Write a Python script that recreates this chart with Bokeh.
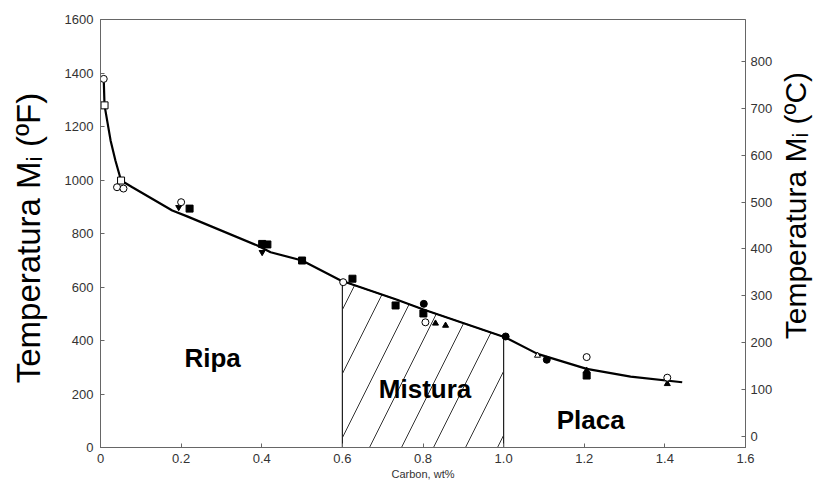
import math
import numpy as np
from bokeh.plotting import figure
from bokeh.layouts import row
from bokeh.models import Range1d, LinearAxis, FixedTicker, ColumnDataSource
from bokeh.core.properties import value
from bokeh.embed import file_html
from bokeh.resources import INLINE

# ---- data ----
curve_x = [0.008, 0.01, 0.025, 0.037, 0.051, 0.079, 0.178, 0.215, 0.389, 0.422,
           0.5, 0.596, 0.734, 0.801, 1.005, 1.084, 1.206, 1.315, 1.443]
curve_t = [1378, 1279, 1148, 1073, 998, 973, 886, 864, 755, 730,
           699, 624, 553, 516, 411, 350, 294, 265, 244]

open_circle_x = [0.008, 0.041, 0.057, 0.2, 0.602, 0.806, 1.206, 1.406]
open_circle_t = [1378, 973, 968, 917, 618, 468, 338, 261]
open_square_x = [0.01, 0.051]
open_square_t = [1279, 998]
filled_square_x = [0.221, 0.401, 0.414, 0.5, 0.625, 0.732, 0.801, 1.206]
filled_square_t = [893, 761, 759, 699, 631, 531, 501, 269]
filled_circle_x = [0.802, 1.005, 1.107]
filled_circle_t = [537, 415, 328]
filled_tri_x = [0.831, 0.856, 1.206, 1.406]
filled_tri_t = [464, 456, 288, 238]
down_tri_x = [0.194, 0.401]
down_tri_t = [898, 730]
open_tri_x = [1.084]
open_tri_t = [344]

mix_start, mix_end = 0.6, 1.0

region_names = ["Ripa", "Mistura", "Placa"]
region_x = [0.278, 0.805, 1.216]
region_t = [333, 220, 101]

x_ticks = [0, 0.2, 0.4, 0.6, 0.8, 1.0, 1.2, 1.4, 1.6]
x_tick_labels = ["0", "0.2", "0.4", "0.6", "0.8", "1.0", "1.2", "1.4", "1.6"]
f_ticks = [0, 200, 400, 600, 800, 1000, 1200, 1400, 1600]
c_ticks = [0, 100, 200, 300, 400, 500, 600, 700, 800]

left_title = "Temperatura M\u1d62  (ºF)"
right_title = "Temperatura M\u1d62 (ºC)"

FONT = "Liberation Sans"
AX = "#666666"
TXT = "#333333"

MAIN_W = 780
p = figure(width=MAIN_W, height=483, output_backend="svg", toolbar_location=None,
           x_range=Range1d(0, 1.6), y_range=Range1d(0, 1600),
           min_border_left=100, min_border_right=35, min_border_top=19,
           min_border_bottom=36, background_fill_color="white",
           border_fill_color="white")
p.xgrid.visible = False
p.ygrid.visible = False
p.outline_line_color = AX
p.outline_line_width = 1

p.extra_y_ranges = {"c": Range1d(-23.5, 889.6)}

# hatched mixed region under the curve
hx = np.linspace(mix_start, mix_end, 40)
ht = np.interp(hx, curve_x, curve_t)
px = [mix_start] + list(hx) + [mix_end]
pt = [0] + list(ht) + [0]
p.patch(px, pt, fill_color=None, line_color="#222222", line_width=1.2,
        hatch_pattern="/", hatch_scale=64, hatch_color="#333333", hatch_weight=1)

p.line(curve_x, curve_t, line_color="black", line_width=2.2)

ms = 7
p.scatter(filled_square_x, filled_square_t, marker="square", size=ms,
          fill_color="black", line_color="black")
p.scatter(filled_circle_x, filled_circle_t, marker="circle", size=ms,
          fill_color="black", line_color="black")
p.scatter(filled_tri_x, filled_tri_t, marker="triangle", size=ms - 1,
          fill_color="black", line_color="black")
p.scatter(down_tri_x, down_tri_t, marker="inverted_triangle", size=ms - 1,
          fill_color="black", line_color="black")
p.scatter(open_tri_x, open_tri_t, marker="triangle", size=ms - 1,
          fill_color="white", line_color="black")
p.scatter(open_square_x, open_square_t, marker="square", size=ms,
          fill_color="white", line_color="black", line_width=1)
p.scatter(open_circle_x, open_circle_t, marker="circle", size=ms,
          fill_color="white", line_color="black", line_width=1)

src = ColumnDataSource(dict(x=region_x, y=region_t, t=region_names))
p.text("x", "y", text="t", source=src, text_align="center",
       text_baseline="alphabetic", text_font=value(FONT), text_font_size="26px",
       text_font_style="bold", text_color="black")

def style(ax, standoff_lbl, standoff_axis):
    ax.axis_line_color = AX
    ax.major_tick_line_color = AX
    ax.minor_tick_line_color = None
    ax.major_tick_in = 4
    ax.major_tick_out = 0
    ax.major_label_text_font = FONT
    ax.major_label_text_font_size = "13px"
    ax.major_label_text_color = TXT
    ax.major_label_standoff = standoff_lbl
    ax.axis_label_text_font = FONT
    ax.axis_label_text_font_style = "normal"
    ax.axis_label_text_color = "black"
    ax.axis_label_standoff = standoff_axis

xa = p.xaxis[0]
xa.ticker = FixedTicker(ticks=x_ticks)
xa.major_label_overrides = {t: l for t, l in zip(x_ticks, x_tick_labels)}
style(xa, 6, 2)
xa.axis_label = "Carbon, wt%"
xa.axis_label_text_font_size = "11px"
xa.axis_label_text_color = TXT

ya = p.yaxis[0]
ya.ticker = FixedTicker(ticks=f_ticks)
style(ya, 7, 15)
ya.axis_label = left_title
ya.axis_label_text_font_size = "33px"

ra = LinearAxis(y_range_name="c", ticker=FixedTicker(ticks=c_ticks))
style(ra, 5, 4)
p.add_layout(ra, "right")

# narrow strip on the right holding the right-hand title, read bottom to top
SIDE_W = 813 - MAIN_W
q = figure(width=SIDE_W, height=483, output_backend="svg", toolbar_location=None,
           x_range=Range1d(0, SIDE_W), y_range=Range1d(0, 483),
           min_border=0, border_fill_color="white", background_fill_color="white")
q.axis.visible = False
q.grid.visible = False
q.outline_line_color = None
q.text(x=[15], y=[273], text=[right_title], angle=math.pi / 2,
       text_align="center", text_baseline="middle", text_font=value(FONT),
       text_font_size="30px", text_color="black")

open("out.html", "w").write(file_html(row(p, q, spacing=0), INLINE))
